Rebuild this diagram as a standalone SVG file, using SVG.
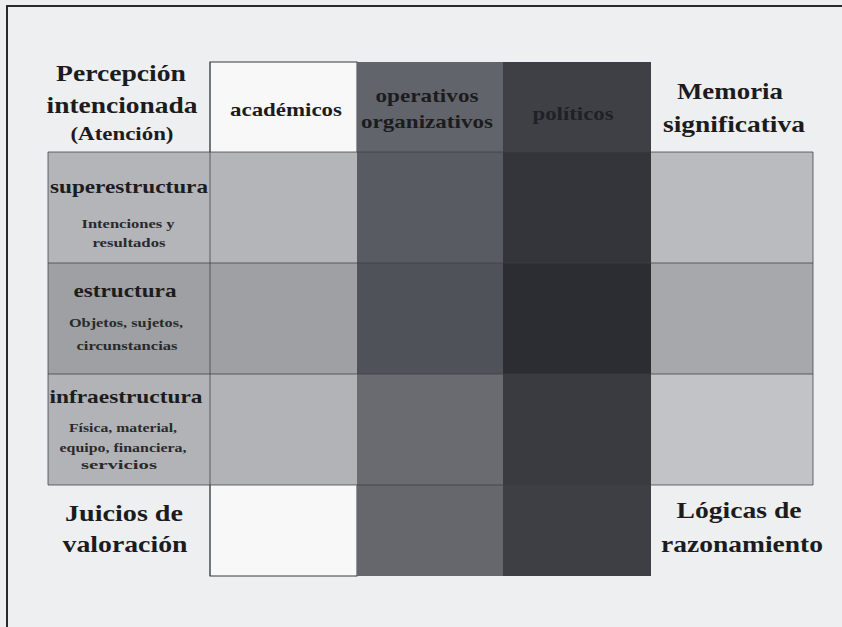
<svg xmlns="http://www.w3.org/2000/svg" width="842" height="627" viewBox="0 0 842 627">
<style>
  text { font-family: "Liberation Serif", "Times New Roman", serif; font-weight: bold; text-anchor: middle; fill: #1c1c1e; }
  .big { font-size: 23px; }
  .mid { font-size: 19px; }
  .small { font-size: 13px; fill: #2a2a2c; }
  .grid { stroke: #3c3e44; stroke-width: 1; fill: none; opacity: 0.75; }
</style>
<rect x="0" y="0" width="842" height="627" fill="#eeeff1"/>
<path d="M7,627 V6 H842" fill="none" stroke="#2a2a2c" stroke-width="2"/>

<g id="col-academicos">
  <rect x="210" y="62" width="147" height="514" fill="#f8f8f9" stroke="#3a3a3c" stroke-width="1"/>
</g>

<g id="rows">
  <rect id="row-super" x="48" y="152" width="765" height="111" fill="#b3b5b9"/>
  <rect id="row-estr" x="48" y="263" width="765" height="111" fill="#9ea0a4"/>
  <rect id="row-infra" x="48" y="374" width="765" height="111" fill="#b1b3b7"/>
  <rect x="651" y="152" width="162" height="111" fill="#b9bbbf"/>
  <rect x="651" y="263" width="162" height="111" fill="#a6a8ac"/>
  <rect x="651" y="374" width="162" height="111" fill="#c1c3c6"/>
</g>

<g id="col-operativos">
  <rect x="357" y="62" width="146" height="90" fill="#62646b"/>
  <rect x="357" y="152" width="146" height="111" fill="#595b62"/>
  <rect x="357" y="263" width="146" height="111" fill="#505259"/>
  <rect x="357" y="374" width="146" height="111" fill="#696b71"/>
  <rect x="357" y="485" width="146" height="91" fill="#65676d"/>
</g>

<g id="col-politicos">
  <rect x="503" y="62" width="148" height="90" fill="#3e4046"/>
  <rect x="503" y="152" width="148" height="111" fill="#33353b"/>
  <rect x="503" y="263" width="148" height="111" fill="#2b2d33"/>
  <rect x="503" y="374" width="148" height="111" fill="#393b41"/>
  <rect x="503" y="485" width="148" height="91" fill="#3d3f45"/>
</g>

<g id="grid-lines">
  <path class="grid" d="M48,152 H813 M48,263 H813 M48,374 H813 M48,485 H813 M48,152 V485 M813,152 V485 M210,62 V576"/>
</g>

<g id="connectors"></g>

<g id="label-percepcion">
  <text class="big" x="121" y="81" textLength="130" lengthAdjust="spacingAndGlyphs">Percepción</text>
  <text class="big" x="122" y="113" textLength="151" lengthAdjust="spacingAndGlyphs">intencionada</text>
  <text class="mid" x="122" y="140" textLength="103" lengthAdjust="spacingAndGlyphs">(Atención)</text>
</g>

<g id="label-academicos">
  <text class="mid" x="286" y="116" textLength="112" lengthAdjust="spacingAndGlyphs">académicos</text>
</g>

<g id="label-operativos">
  <text class="mid" x="427" y="102" textLength="103" lengthAdjust="spacingAndGlyphs">operativos</text>
  <text class="mid" x="427" y="128" textLength="132" lengthAdjust="spacingAndGlyphs">organizativos</text>
</g>

<g id="label-politicos">
  <text class="mid" x="573" y="120" textLength="81" lengthAdjust="spacingAndGlyphs" style="fill:#202028">políticos</text>
</g>

<g id="label-memoria">
  <text class="big" x="730" y="99" textLength="106" lengthAdjust="spacingAndGlyphs">Memoria</text>
  <text class="big" x="734" y="132" textLength="142" lengthAdjust="spacingAndGlyphs">significativa</text>
</g>

<g id="label-superestructura">
  <text class="mid" x="129" y="193" textLength="158" lengthAdjust="spacingAndGlyphs">superestructura</text>
  <text class="small" x="128" y="228" textLength="93" lengthAdjust="spacingAndGlyphs">Intenciones y</text>
  <text class="small" x="129" y="247" textLength="73" lengthAdjust="spacingAndGlyphs">resultados</text>
</g>

<g id="label-estructura">
  <text class="mid" x="125" y="297" textLength="103" lengthAdjust="spacingAndGlyphs">estructura</text>
  <text class="small" x="126" y="327" textLength="114" lengthAdjust="spacingAndGlyphs">Objetos, sujetos,</text>
  <text class="small" x="127" y="350" textLength="101" lengthAdjust="spacingAndGlyphs">circunstancias</text>
</g>

<g id="label-infraestructura">
  <text class="mid" x="126" y="403" textLength="153" lengthAdjust="spacingAndGlyphs">infraestructura</text>
  <text class="small" x="123" y="432" textLength="108" lengthAdjust="spacingAndGlyphs">Física, material,</text>
  <text class="small" x="123" y="452" textLength="127" lengthAdjust="spacingAndGlyphs">equipo, financiera,</text>
  <text class="small" x="119" y="469" textLength="76" lengthAdjust="spacingAndGlyphs">servicios</text>
</g>

<g id="label-juicios">
  <text class="big" x="124" y="521" textLength="118" lengthAdjust="spacingAndGlyphs">Juicios de</text>
  <text class="big" x="125" y="552" textLength="125" lengthAdjust="spacingAndGlyphs">valoración</text>
</g>

<g id="label-logicas">
  <text class="big" x="739" y="518" textLength="125" lengthAdjust="spacingAndGlyphs">Lógicas de</text>
  <text class="big" x="742" y="552" textLength="162" lengthAdjust="spacingAndGlyphs">razonamiento</text>
</g>
</svg>
